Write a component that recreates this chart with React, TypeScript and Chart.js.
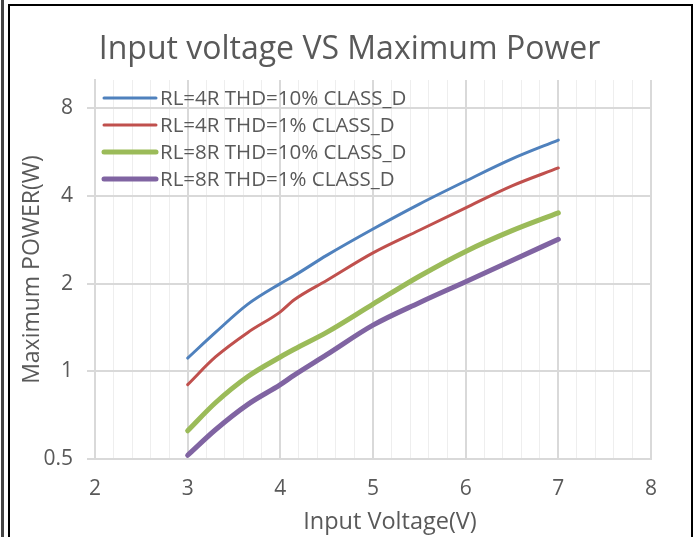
import { useEffect, useRef } from "react";
import { Chart, registerables } from "chart.js";

Chart.register(...registerables);

const titleText = "Input voltage VS Maximum Power";
const xTitle = "Input Voltage(V)";
const yTitle = "Maximum POWER(W)";

const seriesLabels = [
  "RL=4R THD=10% CLASS_D",
  "RL=4R THD=1% CLASS_D",
  "RL=8R THD=10% CLASS_D",
  "RL=8R THD=1% CLASS_D",
];

const xVoltage = [3, 3.3, 3.65, 4, 4.15, 4.5, 5, 5.5, 6, 6.5, 7];
const rl4Thd10 = [1.11, 1.36, 1.7, 2.0, 2.13, 2.5, 3.08, 3.75, 4.5, 5.36, 6.22];
const rl4Thd1 = [0.9, 1.12, 1.36, 1.6, 1.76, 2.05, 2.55, 3.05, 3.64, 4.33, 4.99];
const rl8Thd10 = [0.625, 0.78, 0.96, 1.12, 1.19, 1.36, 1.7, 2.12, 2.58, 3.04, 3.5];
const rl8Thd1 = [0.515, 0.63, 0.77, 0.9, 0.97, 1.14, 1.44, 1.72, 2.03, 2.4, 2.84];

const yTicks = [0.5, 1, 2, 4, 8];
const yMin = 0.5;
const yMax = 10;
const xMin = 2;
const xMax = 8;
const xMinorStep = 0.2;

const colors = ["#4F81BD", "#C0504D", "#9BBB59", "#8064A2"];
const widths = [3, 3, 5, 5];

const FONT = "'Open Sans', 'Noto Sans', sans-serif";
const TEXT = "#595959";

const legendPlugin = {
  id: "insideLegend",
  afterDraw(chart: any) {
    const { ctx } = chart;
    ctx.save();
    ctx.font = `20.5px ${FONT}`;
    ctx.textBaseline = "middle";
    ctx.textAlign = "left";
    chart.data.datasets.forEach((ds: any, i: number) => {
      const y = 98 + i * 27;
      ctx.strokeStyle = ds.borderColor;
      ctx.lineWidth = ds.borderWidth;
      ctx.lineCap = "round";
      ctx.beginPath();
      ctx.moveTo(104, y);
      ctx.lineTo(156, y);
      ctx.stroke();
      ctx.fillStyle = TEXT;
      ctx.fillText(ds.label, 160, y + 1);
    });
    // x-axis title (slightly right of the plot centre, as in the reference)
    ctx.font = `23.5px ${FONT}`;
    ctx.textAlign = "center";
    ctx.textBaseline = "middle";
    ctx.fillStyle = TEXT;
    ctx.fillText(xTitle, 390, 522);
    ctx.restore();
  },
};

export default function App() {
  const ref = useRef<HTMLCanvasElement | null>(null);

  useEffect(() => {
    if (!ref.current) return;
    const allSeries = [rl4Thd10, rl4Thd1, rl8Thd10, rl8Thd1];
    const chart = new Chart(ref.current, {
      type: "line",
      data: {
        datasets: allSeries.map((s, i) => ({
          label: seriesLabels[i],
          data: s.map((v, j) => ({ x: xVoltage[j], y: v })),
          borderColor: colors[i],
          backgroundColor: colors[i],
          borderWidth: widths[i],
          pointRadius: 0,
          cubicInterpolationMode: "monotone" as const,
          borderCapStyle: "round" as const,
          borderJoinStyle: "round" as const,
          fill: false,
        })),
      },
      options: {
        animation: false,
        responsive: false,
        devicePixelRatio: 1,
        layout: { padding: { left: 0, right: 0, top: 0, bottom: 0 } },
        plugins: {
          legend: { display: false },
          tooltip: { enabled: false },
          title: {
            display: true,
            text: titleText,
            color: TEXT,
            font: { family: FONT, size: 32, weight: "normal" },
            padding: { top: 31, bottom: 10.6 },
          },
        },
        scales: {
          x: {
            type: "linear",
            min: xMin,
            max: xMax,
            afterBuildTicks: (scale: any) => {
              const t = [];
              const n = Math.round((xMax - xMin) / xMinorStep);
              for (let k = 0; k <= n; k++) t.push({ value: +(xMin + k * xMinorStep).toFixed(4) });
              scale.ticks = t;
            },
            afterFit: (scale: any) => {
              scale.height = 78;
            },
            ticks: {
              autoSkip: false,
              maxRotation: 0,
              color: TEXT,
              font: { family: FONT, size: 21 },
              padding: 17,
              callback: (v: any) => {
                const n = Number(v);
                return Math.abs(n - Math.round(n)) < 1e-6 ? String(Math.round(n)) : "";
              },
            },
            grid: {
              drawTicks: false,
              color: (c: any) => {
                const n = c.tick?.value ?? 0;
                return Math.abs(n - Math.round(n)) < 1e-6 ? "#d9d9d9" : "#eeeeee";
              },
              lineWidth: (c: any) => {
                const n = c.tick?.value ?? 0;
                return Math.abs(n - Math.round(n)) < 1e-6 ? 2 : 1;
              },
            },
            border: { color: "#d9d9d9", width: 2 },
          },
          y: {
            type: "logarithmic",
            min: yMin,
            max: yMax,
            afterBuildTicks: (scale: any) => {
              scale.ticks = yTicks.map((v) => ({ value: v }));
            },
            afterFit: (scale: any) => {
              scale.width = 95;
            },
            ticks: {
              autoSkip: false,
              color: TEXT,
              font: { family: FONT, size: 21 },
              padding: 14,
              callback: (v: any) => String(Number(v)),
            },
            grid: {
              color: "#d9d9d9",
              lineWidth: 2,
              drawTicks: true,
              tickLength: 8,
              tickColor: "#d9d9d9",
            },
            border: { color: "#d9d9d9", width: 2 },
            title: {
              display: true,
              text: yTitle,
              color: TEXT,
              font: { family: FONT, size: 23 },
              padding: { top: 19, bottom: 0 },
            },
          },
          yRight: {
            type: "linear",
            position: "right",
            display: true,
            grid: { display: false, drawTicks: false },
            ticks: { display: false },
            border: { display: false },
            afterFit: (scale: any) => {
              scale.width = 48;
            },
          },
        },
      },
      plugins: [legendPlugin],
    });
    return () => chart.destroy();
  }, []);

  return (
    <div
      style={{
        position: "fixed",
        left: 0,
        top: 0,
        width: 699,
        height: 537,
        overflow: "hidden",
        background: "#fff",
      }}
    >
      <canvas ref={ref} width={699} height={537} style={{ position: "absolute", left: 0, top: 0 }} />
      <div
        style={{
          position: "absolute",
          left: 1,
          top: 0,
          width: 3,
          height: 537,
          background: "#444",
        }}
      />
      <div
        style={{
          position: "absolute",
          left: 8,
          top: 4,
          width: 685,
          height: 560,
          boxSizing: "border-box",
          borderTop: "2px solid #000",
          borderLeft: "2px solid #000",
          borderRight: "2px solid #000",
          pointerEvents: "none",
        }}
      />
    </div>
  );
}
